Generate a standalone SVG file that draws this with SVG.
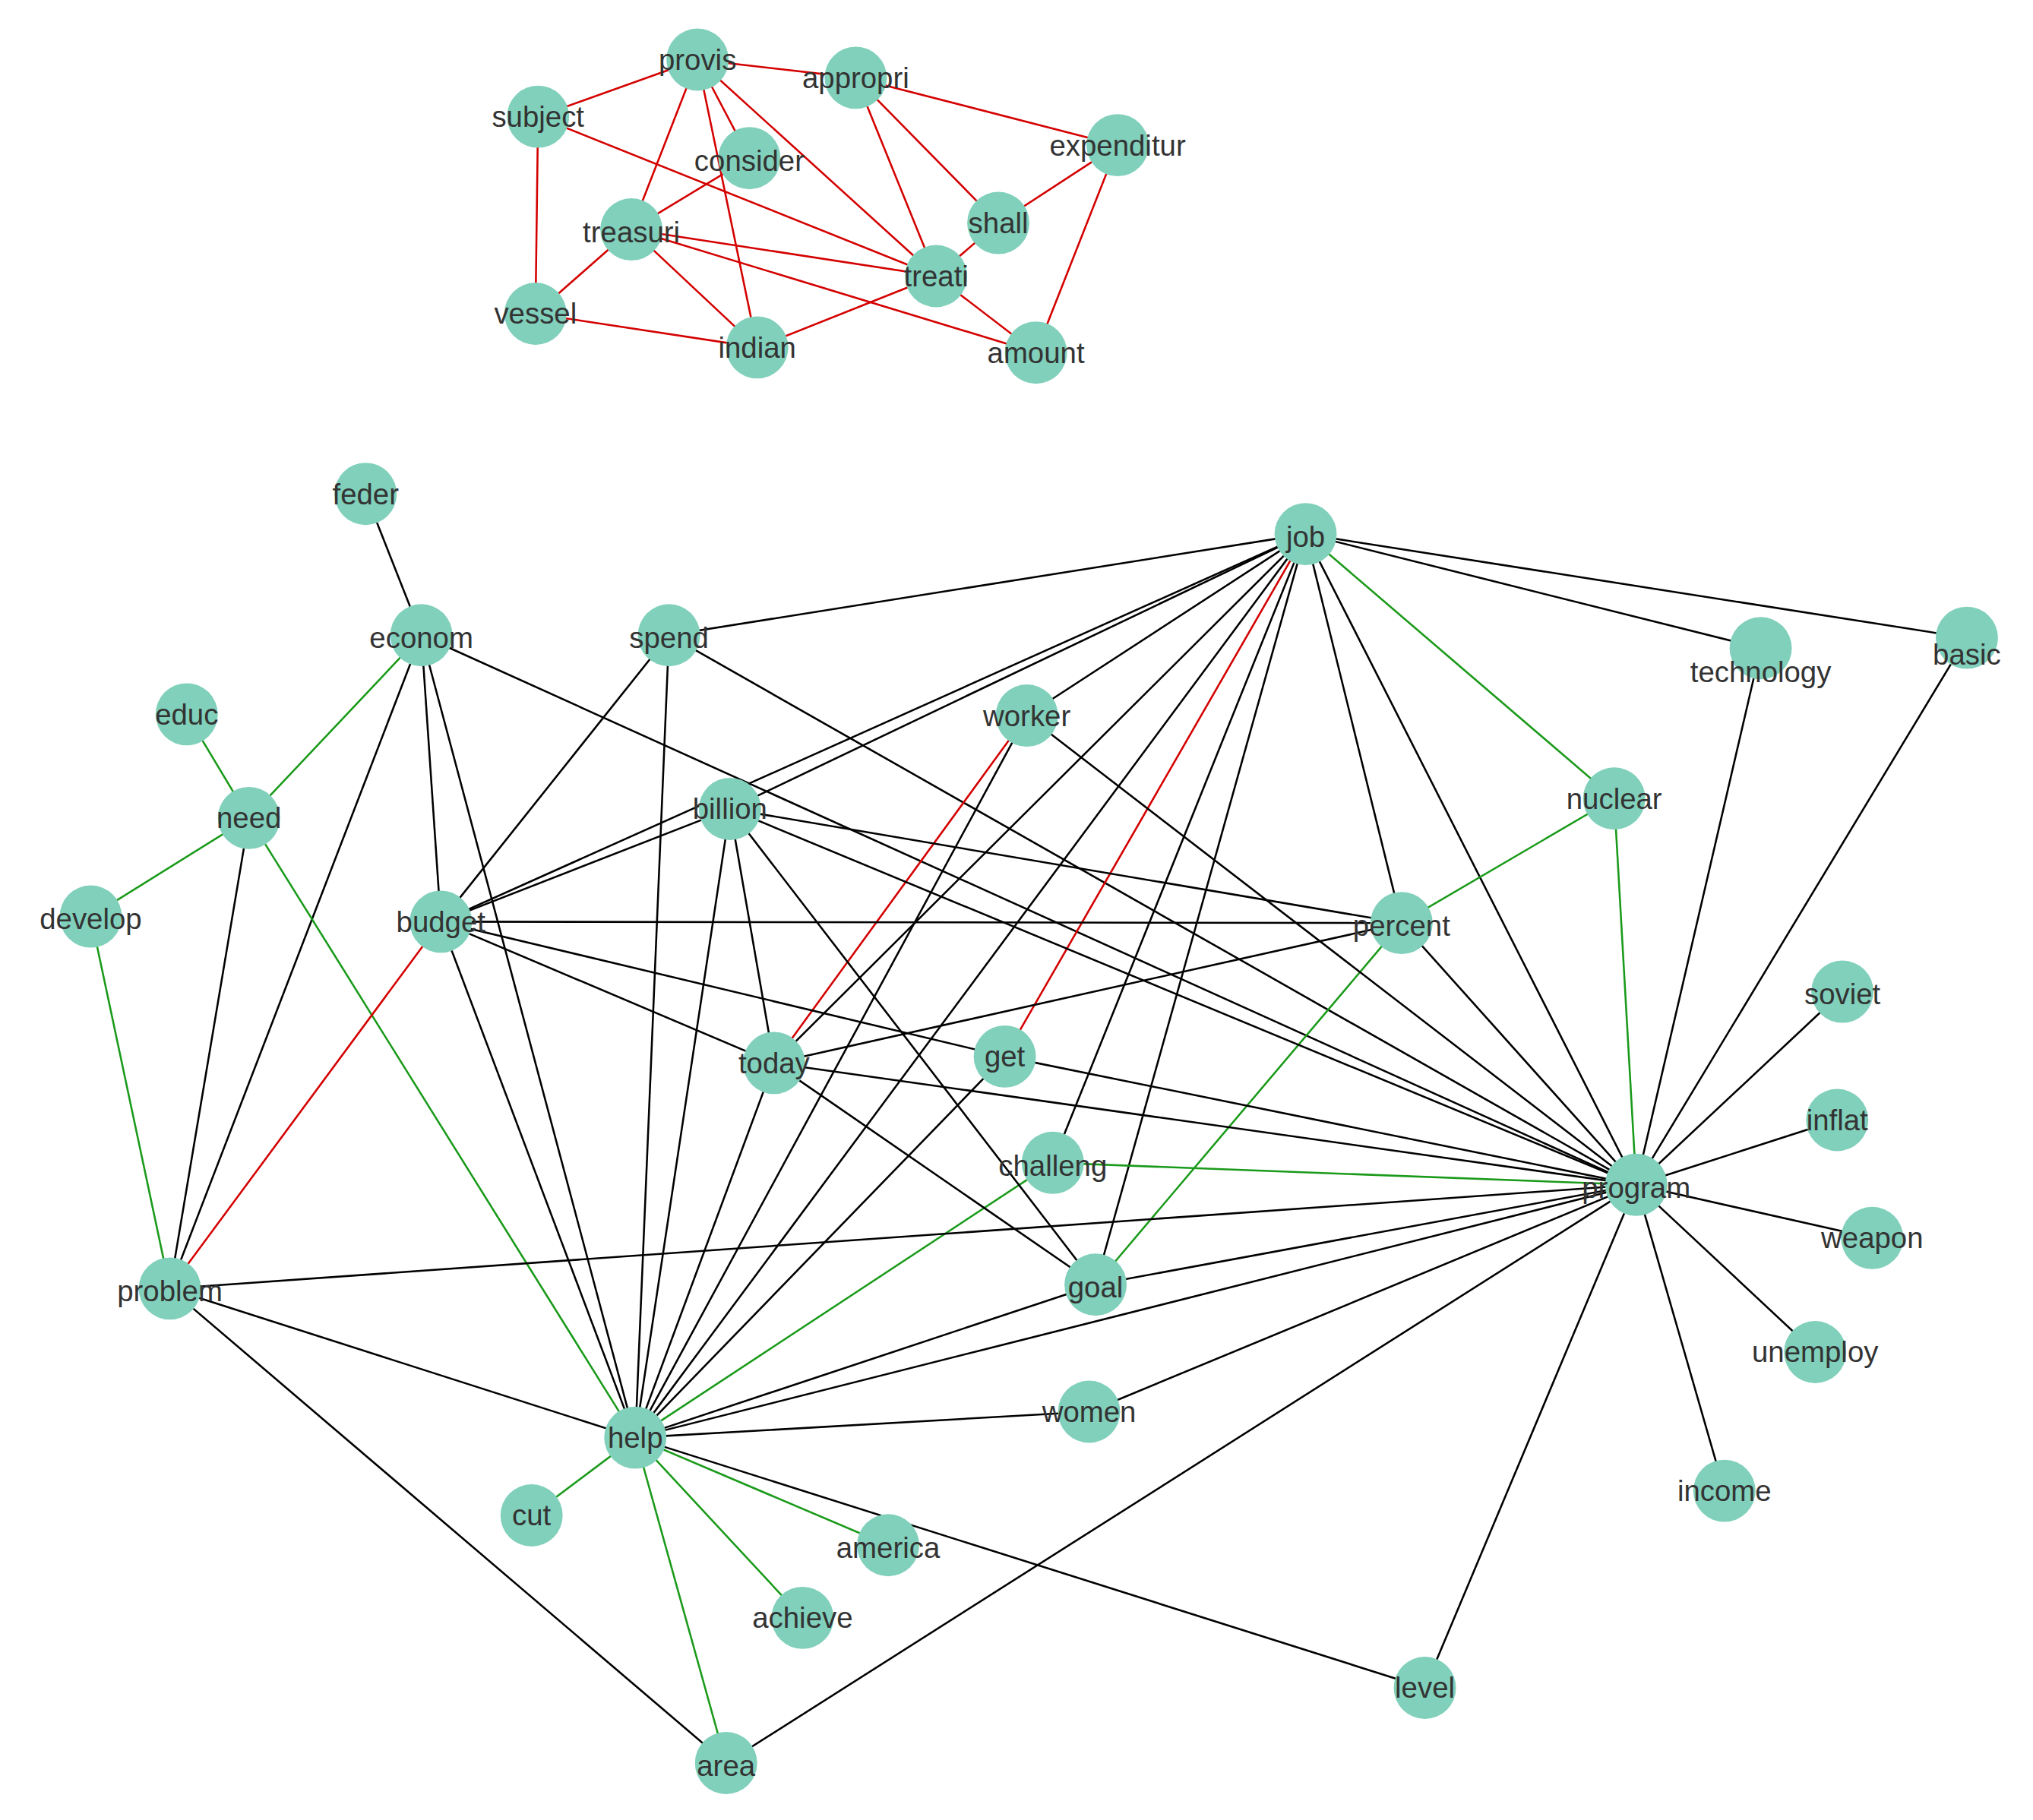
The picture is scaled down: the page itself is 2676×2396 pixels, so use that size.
<svg xmlns="http://www.w3.org/2000/svg" width="2676" height="2396" viewBox="0 0 2676 2396">
<style>
.n circle{fill:#80d0bb}
.n text{font-family:"Liberation Sans",Arial,sans-serif;font-size:22.5px;fill:#333;text-anchor:middle;dominant-baseline:central}
#edges line{stroke-width:1.5}
.k{stroke:#000}.r{stroke:#d40000}.g{stroke:#1a9a1a}
</style>
<rect width="2676" height="2396" fill="#fff"/>
<g transform="scale(1.7066)">
<g id="edges">
<line class="r" x1="415" y1="90" x2="538" y2="46"/><line class="r" x1="415" y1="90" x2="413" y2="242"/><line class="r" x1="415" y1="90" x2="722" y2="213"/>
<line class="r" x1="538" y1="46" x2="660" y2="60"/><line class="r" x1="538" y1="46" x2="578" y2="122"/><line class="r" x1="538" y1="46" x2="487" y2="177"/><line class="r" x1="538" y1="46" x2="722" y2="213"/><line class="r" x1="538" y1="46" x2="584" y2="268"/>
<line class="r" x1="660" y1="60" x2="862" y2="112"/><line class="r" x1="660" y1="60" x2="770" y2="172"/><line class="r" x1="660" y1="60" x2="722" y2="213"/>
<line class="r" x1="578" y1="122" x2="487" y2="177"/><line class="r" x1="862" y1="112" x2="770" y2="172"/><line class="r" x1="862" y1="112" x2="799" y2="272"/>
<line class="r" x1="487" y1="177" x2="413" y2="242"/><line class="r" x1="487" y1="177" x2="584" y2="268"/><line class="r" x1="487" y1="177" x2="722" y2="213"/><line class="r" x1="487" y1="177" x2="799" y2="272"/>
<line class="r" x1="722" y1="213" x2="770" y2="172"/><line class="r" x1="722" y1="213" x2="799" y2="272"/><line class="r" x1="722" y1="213" x2="584" y2="268"/><line class="r" x1="413" y1="242" x2="584" y2="268"/>
<line class="k" x1="282" y1="381" x2="325" y2="490"/><line class="k" x1="325" y1="490" x2="340" y2="711"/><line class="k" x1="325" y1="490" x2="131" y2="994"/><line class="k" x1="325" y1="490" x2="490" y2="1109"/><line class="k" x1="325" y1="490" x2="1262" y2="914"/>
<line class="k" x1="516" y1="490" x2="340" y2="711"/><line class="k" x1="516" y1="490" x2="490" y2="1109"/><line class="k" x1="516" y1="490" x2="1262" y2="914"/><line class="k" x1="516" y1="490" x2="1007" y2="412"/>
<line class="k" x1="1007" y1="412" x2="563" y2="624"/><line class="k" x1="1007" y1="412" x2="340" y2="711"/><line class="k" x1="1007" y1="412" x2="792" y2="552"/><line class="k" x1="1007" y1="412" x2="1358" y2="500"/><line class="k" x1="1007" y1="412" x2="1517" y2="492"/><line class="k" x1="1007" y1="412" x2="1081" y2="712"/><line class="k" x1="1007" y1="412" x2="1262" y2="914"/><line class="k" x1="1007" y1="412" x2="490" y2="1109"/><line class="k" x1="1007" y1="412" x2="597" y2="820"/><line class="k" x1="1007" y1="412" x2="812" y2="897"/><line class="k" x1="1007" y1="412" x2="845" y2="991"/>
<line class="g" x1="1007" y1="412" x2="1245" y2="616"/><line class="g" x1="325" y1="490" x2="192" y2="631"/><line class="g" x1="144" y1="551" x2="192" y2="631"/><line class="g" x1="192" y1="631" x2="70" y2="707"/><line class="g" x1="192" y1="631" x2="490" y2="1109"/><line class="g" x1="70" y1="707" x2="131" y2="994"/><line class="g" x1="1245" y1="616" x2="1081" y2="712"/><line class="g" x1="1245" y1="616" x2="1262" y2="914"/><line class="g" x1="1081" y1="712" x2="845" y2="991"/><line class="g" x1="812" y1="897" x2="490" y2="1109"/><line class="g" x1="812" y1="897" x2="1262" y2="914"/><line class="g" x1="490" y1="1109" x2="410" y2="1169"/><line class="g" x1="490" y1="1109" x2="685" y2="1192"/><line class="g" x1="490" y1="1109" x2="619" y2="1248"/><line class="g" x1="490" y1="1109" x2="560" y2="1360"/>
<line class="r" x1="1007" y1="412" x2="775" y2="815"/><line class="r" x1="792" y1="552" x2="597" y2="820"/><line class="r" x1="340" y1="711" x2="131" y2="994"/>
<line class="k" x1="192" y1="631" x2="131" y2="994"/><line class="k" x1="340" y1="711" x2="490" y2="1109"/><line class="k" x1="340" y1="711" x2="1081" y2="712"/><line class="k" x1="340" y1="711" x2="775" y2="815"/><line class="k" x1="340" y1="711" x2="597" y2="820"/>
<line class="k" x1="563" y1="624" x2="1081" y2="712"/><line class="k" x1="563" y1="624" x2="1262" y2="914"/><line class="k" x1="563" y1="624" x2="597" y2="820"/><line class="k" x1="563" y1="624" x2="490" y2="1109"/><line class="k" x1="563" y1="624" x2="845" y2="991"/><line class="k" x1="563" y1="624" x2="340" y2="711"/>
<line class="k" x1="792" y1="552" x2="490" y2="1109"/><line class="k" x1="792" y1="552" x2="1262" y2="914"/><line class="k" x1="1081" y1="712" x2="597" y2="820"/><line class="k" x1="1081" y1="712" x2="1262" y2="914"/>
<line class="k" x1="597" y1="820" x2="490" y2="1109"/><line class="k" x1="597" y1="820" x2="845" y2="991"/><line class="k" x1="597" y1="820" x2="1262" y2="914"/><line class="k" x1="775" y1="815" x2="1262" y2="914"/><line class="k" x1="775" y1="815" x2="490" y2="1109"/>
<line class="k" x1="131" y1="994" x2="1262" y2="914"/><line class="k" x1="131" y1="994" x2="490" y2="1109"/><line class="k" x1="131" y1="994" x2="560" y2="1360"/><line class="k" x1="845" y1="991" x2="1262" y2="914"/><line class="k" x1="845" y1="991" x2="490" y2="1109"/>
<line class="k" x1="490" y1="1109" x2="1262" y2="914"/><line class="k" x1="490" y1="1109" x2="840" y2="1089"/><line class="k" x1="490" y1="1109" x2="1099" y2="1302"/><line class="k" x1="840" y1="1089" x2="1262" y2="914"/><line class="k" x1="560" y1="1360" x2="1262" y2="914"/><line class="k" x1="1262" y1="914" x2="1099" y2="1302"/>
<line class="k" x1="1262" y1="914" x2="1358" y2="500"/><line class="k" x1="1262" y1="914" x2="1517" y2="492"/><line class="k" x1="1262" y1="914" x2="1421" y2="765"/><line class="k" x1="1262" y1="914" x2="1417" y2="864"/><line class="k" x1="1262" y1="914" x2="1444" y2="955"/><line class="k" x1="1262" y1="914" x2="1400" y2="1043"/><line class="k" x1="1262" y1="914" x2="1330" y2="1150"/>
</g>
<g id="provis" class="n"><circle cx="538" cy="46" r="24"/><text x="538" y="46">provis</text></g>
<g id="appropri" class="n"><circle cx="660" cy="60" r="24"/><text x="660" y="60">appropri</text></g>
<g id="subject" class="n"><circle cx="415" cy="90" r="24"/><text x="415" y="90">subject</text></g>
<g id="consider" class="n"><circle cx="578" cy="122" r="24"/><text x="578" y="124">consider</text></g>
<g id="expenditur" class="n"><circle cx="862" cy="112" r="24"/><text x="862" y="112">expenditur</text></g>
<g id="shall" class="n"><circle cx="770" cy="172" r="24"/><text x="770" y="172">shall</text></g>
<g id="treasuri" class="n"><circle cx="487" cy="177" r="24"/><text x="487" y="179">treasuri</text></g>
<g id="treati" class="n"><circle cx="722" cy="213" r="24"/><text x="722" y="213">treati</text></g>
<g id="vessel" class="n"><circle cx="413" cy="242" r="24"/><text x="413" y="242">vessel</text></g>
<g id="indian" class="n"><circle cx="584" cy="268" r="24"/><text x="584" y="268">indian</text></g>
<g id="amount" class="n"><circle cx="799" cy="272" r="24"/><text x="799" y="272">amount</text></g>
<g id="feder" class="n"><circle cx="282" cy="381" r="24"/><text x="282" y="381">feder</text></g>
<g id="job" class="n"><circle cx="1007" cy="412" r="24"/><text x="1007" y="414">job</text></g>
<g id="econom" class="n"><circle cx="325" cy="490" r="24"/><text x="325" y="492">econom</text></g>
<g id="spend" class="n"><circle cx="516" cy="490" r="24"/><text x="516" y="492">spend</text></g>
<g id="technology" class="n"><circle cx="1358" cy="500" r="24"/><text x="1358" y="518">technology</text></g>
<g id="basic" class="n"><circle cx="1517" cy="492" r="24"/><text x="1517" y="505">basic</text></g>
<g id="educ" class="n"><circle cx="144" cy="551" r="24"/><text x="144" y="551">educ</text></g>
<g id="worker" class="n"><circle cx="792" cy="552" r="24"/><text x="792" y="552">worker</text></g>
<g id="need" class="n"><circle cx="192" cy="631" r="24"/><text x="192" y="631">need</text></g>
<g id="billion" class="n"><circle cx="563" cy="624" r="24"/><text x="563" y="624">billion</text></g>
<g id="nuclear" class="n"><circle cx="1245" cy="616" r="24"/><text x="1245" y="616">nuclear</text></g>
<g id="develop" class="n"><circle cx="70" cy="707" r="24"/><text x="70" y="709">develop</text></g>
<g id="budget" class="n"><circle cx="340" cy="711" r="24"/><text x="340" y="711">budget</text></g>
<g id="percent" class="n"><circle cx="1081" cy="712" r="24"/><text x="1081" y="714">percent</text></g>
<g id="soviet" class="n"><circle cx="1421" cy="765" r="24"/><text x="1421" y="767">soviet</text></g>
<g id="today" class="n"><circle cx="597" cy="820" r="24"/><text x="597" y="820">today</text></g>
<g id="get" class="n"><circle cx="775" cy="815" r="24"/><text x="775" y="815">get</text></g>
<g id="inflat" class="n"><circle cx="1417" cy="864" r="24"/><text x="1417" y="864">inflat</text></g>
<g id="challeng" class="n"><circle cx="812" cy="897" r="24"/><text x="812" y="899">challeng</text></g>
<g id="program" class="n"><circle cx="1262" cy="914" r="24"/><text x="1262" y="916">program</text></g>
<g id="weapon" class="n"><circle cx="1444" cy="955" r="24"/><text x="1444" y="955">weapon</text></g>
<g id="problem" class="n"><circle cx="131" cy="994" r="24"/><text x="131" y="996">problem</text></g>
<g id="goal" class="n"><circle cx="845" cy="991" r="24"/><text x="845" y="993">goal</text></g>
<g id="unemploy" class="n"><circle cx="1400" cy="1043" r="24"/><text x="1400" y="1043">unemploy</text></g>
<g id="women" class="n"><circle cx="840" cy="1089" r="24"/><text x="840" y="1089">women</text></g>
<g id="help" class="n"><circle cx="490" cy="1109" r="24"/><text x="490" y="1109">help</text></g>
<g id="income" class="n"><circle cx="1330" cy="1150" r="24"/><text x="1330" y="1150">income</text></g>
<g id="cut" class="n"><circle cx="410" cy="1169" r="24"/><text x="410" y="1169">cut</text></g>
<g id="america" class="n"><circle cx="685" cy="1192" r="24"/><text x="685" y="1194">america</text></g>
<g id="achieve" class="n"><circle cx="619" cy="1248" r="24"/><text x="619" y="1248">achieve</text></g>
<g id="level" class="n"><circle cx="1099" cy="1302" r="24"/><text x="1099" y="1302">level</text></g>
<g id="area" class="n"><circle cx="560" cy="1360" r="24"/><text x="560" y="1362">area</text></g>
</g>
</svg>
